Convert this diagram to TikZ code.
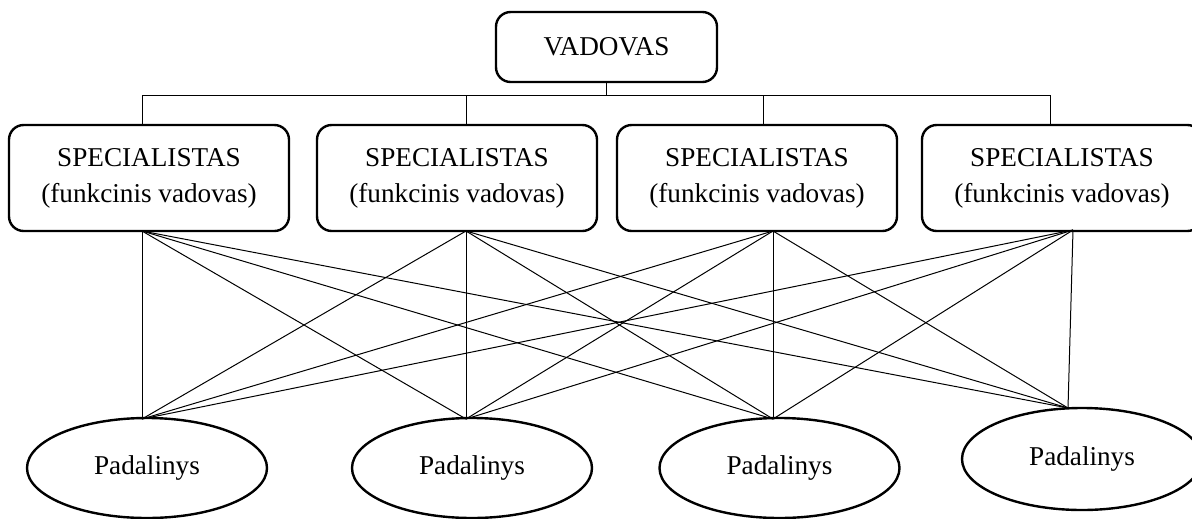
\documentclass[tikz,border=0pt]{standalone}
\usepackage{fontspec}
\setmainfont{Liberation Serif}
\usetikzlibrary{shapes.geometric}
\begin{document}
\begin{tikzpicture}[x=0.75pt,y=-0.75pt,
  font=\fontsize{20.4}{27}\selectfont,
  boxnode/.style={draw,line width=1.8pt,rounded corners=11pt,align=center,inner sep=0pt},
  chief/.style={boxnode,minimum width=165.75pt,minimum height=52.5pt},
  expert/.style={boxnode,minimum width=210pt,minimum height=79.5pt},
  unit/.style={draw,line width=1.8pt,ellipse,inner sep=0pt,minimum width=180pt,minimum height=75pt},
  link/.style={line width=0.75pt}]
\useasboundingbox (0,0) rectangle (1192,518);

% top manager
\node[chief] (vad) at (606.5,47) {VADOVAS};

% functional managers
\node[expert] (s1) at (149,178)  {SPECIALISTAS\\(funkcinis vadovas)};
\node[expert] (s2) at (457,178)  {SPECIALISTAS\\(funkcinis vadovas)};
\node[expert] (s3) at (757,178)  {SPECIALISTAS\\(funkcinis vadovas)};
\node[expert] (s4) at (1062,178) {SPECIALISTAS\\(funkcinis vadovas)};

% units
\node[unit] (p1) at (147,468)  {Padalinys};
\node[unit] (p2) at (472,468)  {Padalinys};
\node[unit] (p3) at (779.5,468) {Padalinys};
\node[unit,minimum height=76.5pt] (p4) at (1082,459) {Padalinys};

% bus joints
\coordinate (bv) at (vad.south |- 0,95);
\coordinate (b1) at (142,95);
\coordinate (b2) at (466,95);
\coordinate (b3) at (763,95);
\coordinate (b4) at (1050,95);
\coordinate (d1) at (142,125);
\coordinate (d2) at (466,125);
\coordinate (d3) at (763,125);
\coordinate (d4) at (1050,125);

% fan-out points under the functional managers
\coordinate (f1) at (142,231);
\coordinate (f2) at (466,231);
\coordinate (f3) at (773,231);
\coordinate (f4) at (1073,230);

% fan-in points on top of the units
\coordinate (u1) at (142,419);
\coordinate (u2) at (466,419);
\coordinate (u3) at (773,419);
\coordinate (u4) at (1068,408);

% hierarchy lines
\draw[link] (vad.south) -- (bv);
\draw[link] (b1) -- (b4);
\foreach \i in {1,...,4} \draw[link] (b\i) -- (d\i);

% every functional manager to every unit
\foreach \i in {1,...,4}
  \foreach \j in {1,...,4}
    \draw[link] (f\i) -- (u\j);
\end{tikzpicture}
\end{document}
